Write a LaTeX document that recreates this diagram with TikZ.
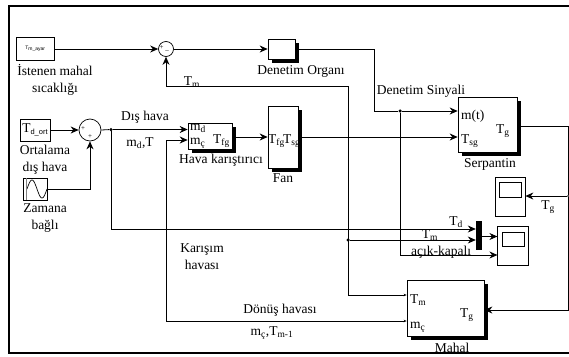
\documentclass[tikz,border=0pt]{standalone}
\usepackage{fontspec}
\setmainfont{Liberation Serif}
\setsansfont{Liberation Sans}
\usetikzlibrary{arrows.meta, positioning, shadows}

\begin{document}
\begin{tikzpicture}[
    x=1pt, y=-1pt,
    block/.style={draw, fill=white, inner sep=0pt, line width=0.7pt},
    shadowblock/.style={block, drop shadow={shadow xshift=3.5pt, shadow yshift=-3.5pt,
        fill=black, opacity=1}},
    sumnode/.style={draw, circle, fill=white, inner sep=0pt, line width=0.7pt},
    arr/.style={-{Stealth[length=8pt, width=7pt]}, line width=0.8pt},
    twotip/.style={{Stealth[length=3pt, width=2.5pt]}-{Stealth[length=8pt, width=7pt]},
        line width=0.8pt},
    wire/.style={line width=0.8pt},
    lbl/.style={font=\fontsize{13.5}{17}\selectfont, inner sep=0pt, align=center},
    port/.style={font=\fontsize{13.5}{17}\selectfont, inner sep=0pt},
    dot/.style={circle, fill=black, inner sep=0pt, minimum size=3.5pt},
]
    \useasboundingbox (0,0) rectangle (569,356);

    % source blocks
    \node[block, minimum width=37.5pt, minimum height=22.5pt] (ayar) at (35.5,49)
        {\sffamily\fontsize{5}{6}\selectfont T\textsubscript{m\_ayar}};
    \node[block, minimum width=30pt, minimum height=22pt] (ort) at (35,130)
        {\fontsize{13.5}{17}\selectfont T\sffamily\fontsize{7.5}{9}\selectfont\raisebox{-2pt}{d\_ort}};
    \node[block, minimum width=23.5pt, minimum height=22pt] (sine) at (35.5,189) {};
    \draw[line width=0.7pt] plot[domain=0:1, samples=30, smooth]
        ({27+20*\x},{189-9*sin(360*\x)});
    \draw[gray, line width=0.9pt] (26,178) -- (26,200);

    % summing junctions
    \node[sumnode, minimum size=15pt] (sumA) at (166,49) {};
    \node[sumnode, minimum size=22pt] (sumB) at (90,130) {};
    \node[font=\fontsize{7}{8}\selectfont, inner sep=0pt] (sumAp) at (161.5,48) {+};
    \node[font=\fontsize{7}{8}\selectfont, inner sep=0pt] (sumAm) at (167,52) {--};
    \node[font=\fontsize{7}{8}\selectfont, inner sep=0pt] (sumBp) at (83,129) {+};
    \node[font=\fontsize{7}{8}\selectfont, inner sep=0pt] (sumBq) at (90,137) {+};

    % main blocks
    \node[shadowblock, minimum width=27pt, minimum height=20pt] (organ) at (281.5,49.5) {};
    \node[shadowblock, minimum width=44pt, minimum height=26pt] (mixer) at (210,136) {};
    \node[shadowblock, minimum width=30pt, minimum height=62pt] (fan) at (283,137) {};
    \node[shadowblock, minimum width=59pt, minimum height=55pt] (coil) at (487.5,124.5) {};
    \node[shadowblock, minimum width=77pt, minimum height=56pt] (room) at (445.5,308) {};

    % scopes
    \node[block, minimum width=30pt, minimum height=39pt] (scopeA) at (510,196.5) {};
    \node[block, minimum width=22pt, minimum height=15pt] (screenA) at (510,189.5) {};
    \node[block, minimum width=30.5pt, minimum height=39pt] (scopeB) at (513,245.5) {};
    \node[block, minimum width=22pt, minimum height=14pt] (screenB) at (513.5,239) {};
    \node[draw, fill=black, inner sep=0pt, minimum width=5pt, minimum height=28pt] (mux) at (478.5,235) {};

    % junctions and free ends
    \node[dot] (jctA) at (111,129.5) {};
    \node[dot] (jctB) at (400,111) {};
    \node[dot] (jctC) at (348,240) {};
    \node[dot, minimum size=2pt] (jctD) at (568,196) {};
    \coordinate (cornerA) at (374.5,49.5);
    \coordinate (cornerB) at (568,126);
    \coordinate (cornerC) at (568,310);

    % connectors
    \draw[arr] (ayar.east |- sumA) -- (sumA.west);
    \draw[arr] (sumA.east) -- (organ.west |- sumA);
    \draw[wire] (organ.east |- cornerA) -- (cornerA) |- (jctB);
    \draw[arr] (jctB) -- (coil.west |- jctB);
    \draw[arr] (ort.east |- sumB.west) -- (sumB.west);
    \draw[arr] (sine.east) -| (sumB.south);
    \draw[wire] (sumB.east) -- (jctA);
    \draw[arr] (jctA) -- (mixer.west |- jctA);
    \draw[arr] (jctA) |- (mux.west |- 0,229);
    \draw[twotip] (room.west |- 0,321) -| (166,140) -- (mixer.west |- 0,140);
    \draw[arr] (mixer.east |- 0,137) -- (fan.west |- 0,137);
    \draw[arr] (fan.east |- 0,137) -- (coil.west |- 0,137);
    \draw[wire] (coil.east |- cornerB) -- (cornerB) -- (jctD);
    \draw[arr] (jctD) -- (cornerC) -- (room.east |- cornerC);
    \draw[arr] (jctD) -- (scopeA.east |- jctD);
    \draw[arr] (jctB) |- (scopeB.west |- 0,255);
    \draw[twotip] (room.west |- 0,295) -| (348,86) -| (sumA.south);
    \draw[arr] (jctC) -- (mux.west |- jctC);
    \draw[arr] (mux.east |- 0,236.5) -- (scopeB.west |- 0,236.5);

    % block captions
    \node[lbl] (lblAyar) at (55,80) {İstenen mahal\\sıcaklığı};
    \node[lbl] (lblOrgan) at (301,71) {Denetim Organı};
    \node[lbl] (lblTm) at (192,82) {T\textsubscript{m}};
    \node[lbl] (lblSignal) at (421,91) {Denetim Sinyali};
    \node[lbl] (lblOut) at (145,117) {Dış hava};
    \node[lbl] (lblMd) at (140,143) {m\textsubscript{d},T};
    \node[lbl] (lblMixer) at (221,160) {Hava karıştırıcı};
    \node[lbl] (lblOrt) at (45,160) {Ortalama\\dış hava};
    \node[lbl] (lblSine) at (45,218) {Zamana\\bağlı};
    \node[lbl] (lblFan) at (283,178) {Fan};
    \node[lbl] (lblCoil) at (490,164) {Serpantin};
    \node[lbl] (lblMix) at (202,257) {Karışım\\havası};
    \node[lbl] (lblBack) at (280,310) {Dönüş havası};
    \node[lbl] (lblMc) at (272,333) {m\textsubscript{ç},T\textsubscript{m-1}};
    \node[lbl] (lblTg) at (548,207) {T\textsubscript{g}};
    \node[lbl] (lblTd) at (456,222) {T\textsubscript{d}};
    \node[lbl] (lblTmB) at (430,235) {T\textsubscript{m}};
    \node[lbl] (lblOnOff) at (441,252) {açık-kapalı};
    \node[lbl] (lblRoom) at (452,348) {Mahal};

    % port names
    \node[port, anchor=west] (mixMd) at (190,128) {m\textsubscript{d}};
    \node[port, anchor=west] (mixMc) at (190,143) {m\textsubscript{ç}};
    \node[port, anchor=west] (mixT) at (213,141) {T\textsubscript{fg}};
    \node[port, anchor=west] (fanT) at (268,141) {T\textsubscript{fg}};
    \node[port, anchor=west] (fanS) at (283,141) {T\textsubscript{sg}};
    \node[port, anchor=west] (coilM) at (461,116) {m(t)};
    \node[port, anchor=west] (coilS) at (461,141) {T\textsubscript{sg}};
    \node[port, anchor=west] (coilT) at (496,131) {T\textsubscript{g}};
    \node[port, anchor=west] (roomT) at (410,300) {T\textsubscript{m}};
    \node[port, anchor=west] (roomM) at (410,327) {m\textsubscript{ç}};
    \node[port, anchor=west] (roomG) at (460,315) {T\textsubscript{g}};

    % outer frame
    \draw[line width=2pt] (569,5.5) -- (8.5,5.5) -- (8.5,352.5) -- (569,352.5);
\end{tikzpicture}
\end{document}
